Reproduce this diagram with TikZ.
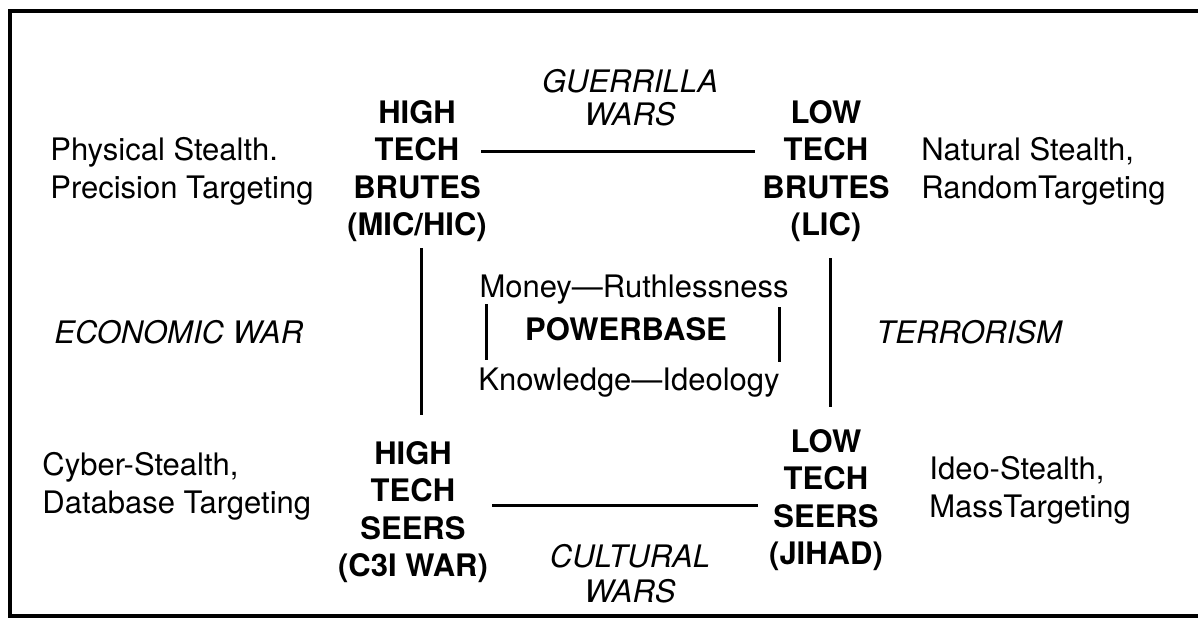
\documentclass[tikz,border=0pt]{standalone}
\usepackage{fontspec}
\setmainfont{TeX Gyre Heros}
\usetikzlibrary{calc}

\begin{document}
\begin{tikzpicture}[x=0.5pt, y=-0.5pt,
    txt/.style={inner sep=0pt, font=\fontsize{15.5}{18.75}\selectfont},
    tech/.style={txt, anchor=north, align=center, font=\fontsize{15.5}{18.75}\selectfont\bfseries},
    war/.style={txt, anchor=north, align=center, font=\fontsize{15.5}{18.75}\selectfont\itshape},
    note/.style={txt, anchor=north west, align=left},
    link/.style={line width=1.5pt}
]
  \useasboundingbox (0,0) rectangle (1198,620);
  \draw[line width=2pt] (1198,11) -- (10,11) -- (10,616) -- (1198,616);

  % the four corners
  \node[tech] (hb) at (417,100) {HIGH\\TECH\\BRUTES\\(MIC/HIC)};
  \node[tech] (lb) at (826,100) {LOW\\TECH\\BRUTES\\(LIC)};
  \node[tech] (hs) at (413,441) {HIGH\\TECH\\SEERS\\(C3I WAR)};
  \node[tech] (ls) at (826,429) {LOW\\TECH\\SEERS\\(JIHAD)};

  % kinds of war
  \node[war] (gw) at (630,69) {GUERRILLA\\[-2.25pt]WARS};
  \node[war] (cw) at (630,544) {CULTURAL\\[-1.25pt]WARS};
  \node[war, anchor=north west] (ew) at (54,320) {ECONOMIC WAR};
  \node[war, anchor=north west] (tw) at (876,320) {TERRORISM};

  % stealth and targeting
  \node[note] (phys) at (50,137) {Physical Stealth.\\Precision Targeting};
  \node[note] (nat) at (921,137) {Natural Stealth,\\RandomTargeting};
  \node[note] (cyb) at (42,452) {Cyber-Stealth,\\Database Targeting};
  \node[note] (ideo) at (929,456) {Ideo-Stealth,\\MassTargeting};

  % powerbase
  \node[txt, anchor=north] (money) at (634,274) {Money—Ruthlessness};
  \node[txt, anchor=north, font=\fontsize{15.5}{18.75}\selectfont\bfseries] (power) at (626,317) {POWERBASE};
  \node[txt, anchor=north] (know) at (629,367) {Knowledge—Ideology};

  \draw[link] ($(hb.north east)+(-6,52)$) -- ($(lb.north west)+(-7,52)$);
  \draw[link] ($(hs.north east)+(4,64)$) -- ($(ls.north west)+(-11,76)$);
  \draw[link] ($(hb.south)+(4,6)$) -- ($(hs.north)+(8,-26)$);
  \draw[link] ($(lb.south)+(4,16)$) -- ($(ls.north)+(4,-22)$);
  \draw[link] ([xshift=3.5pt]money.south west) -- ([xshift=3.5pt,yshift=3.5pt]money.south west |- know.north);
  \draw[link] ([xshift=-4.5pt,yshift=-1.5pt]money.south east) -- ([xshift=-4.5pt,yshift=2.5pt]money.south east |- know.north);
\end{tikzpicture}
\end{document}
